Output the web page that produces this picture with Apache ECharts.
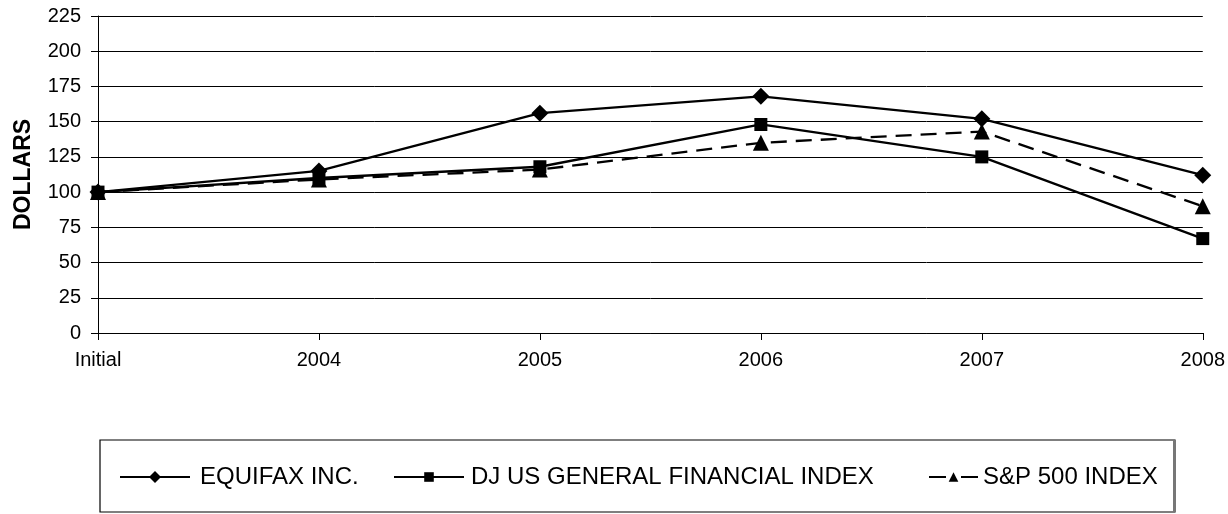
<!DOCTYPE html>
<html>
<head>
  <meta charset="utf-8">
  <title>Stock performance</title>
  <script src="https://cdn.jsdelivr.net/npm/echarts@6/dist/echarts.min.js"></script>
</head>
<style>
  html, body { margin: 0; padding: 0; background: #fff; }
  #chart { width: 1228px; height: 514px; }
</style>
<body>
  <div id="chart"></div>
  <script>
    // data
    const years = ['Initial', '2004', '2005', '2006', '2007', '2008'];
    const equifax = [100, 115, 156, 168, 152, 112];
    const djFinancial = [100, 110, 118, 148, 125, 67];
    const sp500 = [100, 109, 116, 135, 143, 90];
    const yTicks = { min: 0, max: 225, interval: 25 };

    const font = 'Liberation Sans, Arial, sans-serif';
    const chart = echarts.init(document.getElementById('chart'));

    // one legend per entry so each sits where it does in the original box
    function legendAt(name, left, width, height, gap, extra) {
      return Object.assign({
        data: [name],
        left: left,
        top: 460,
        itemWidth: width,
        itemHeight: height,
        textStyle: { fontFamily: font, fontSize: 24, color: '#000', padding: [0, 0, 0, gap] },
        selectedMode: false
      }, extra || {});
    }

    chart.setOption({
      animation: false,
      grid: { left: 98, right: 23, top: 16, bottom: 181 },
      xAxis: {
        type: 'category',
        data: years,
        boundaryGap: false,
        axisLine: { lineStyle: { color: '#000', width: 1 } },
        axisTick: { show: true, length: 7, lineStyle: { color: '#000' } },
        axisLabel: { interval: 0, margin: 17, fontFamily: font, fontSize: 20, color: '#000' }
      },
      yAxis: {
        type: 'value',
        min: yTicks.min,
        max: yTicks.max,
        interval: yTicks.interval,
        name: 'DOLLARS',
        nameLocation: 'middle',
        nameGap: 63,
        nameTextStyle: { fontFamily: font, fontSize: 23, fontWeight: 'bold', color: '#000' },
        axisLine: { show: true, lineStyle: { color: '#000', width: 1 } },
        axisTick: { show: true, length: 7, lineStyle: { color: '#000' } },
        axisLabel: { margin: 17, fontFamily: font, fontSize: 20, color: '#000' },
        splitLine: { show: true, lineStyle: { color: '#000', width: 1 } }
      },
      legend: [
        legendAt('EQUIFAX INC.', 114, 70, 15, 5),
        legendAt('DJ US GENERAL FINANCIAL INDEX', 388, 70, 12, 2),
        legendAt('S&P 500 INDEX', 923, 49, 12, 0, { lineStyle: { type: [17, 15] } })
      ],
      graphic: [
        {
          type: 'rect',
          shape: { x: 100, y: 440, width: 1075, height: 72 },
          style: { fill: 'none', stroke: '#000', lineWidth: 1.2 },
          silent: true
        },
        {
          type: 'rect',
          shape: { x: 1173, y: 440, width: 3, height: 72 },
          style: { fill: '#777' },
          silent: true
        }
      ],
      series: [
        {
          name: 'EQUIFAX INC.',
          type: 'line',
          data: equifax,
          symbol: 'diamond',
          symbolSize: 17,
          itemStyle: { color: '#000' },
          lineStyle: { color: '#000', width: 2.3 }
        },
        {
          name: 'DJ US GENERAL FINANCIAL INDEX',
          type: 'line',
          data: djFinancial,
          symbol: 'rect',
          symbolSize: 13,
          itemStyle: { color: '#000' },
          lineStyle: { color: '#000', width: 2.3 }
        },
        {
          name: 'S&P 500 INDEX',
          type: 'line',
          data: sp500,
          symbol: 'triangle',
          symbolSize: 16,
          itemStyle: { color: '#000' },
          lineStyle: { color: '#000', width: 2.3, type: [16, 9] }
        }
      ]
    });
  </script>
</body>
</html>
